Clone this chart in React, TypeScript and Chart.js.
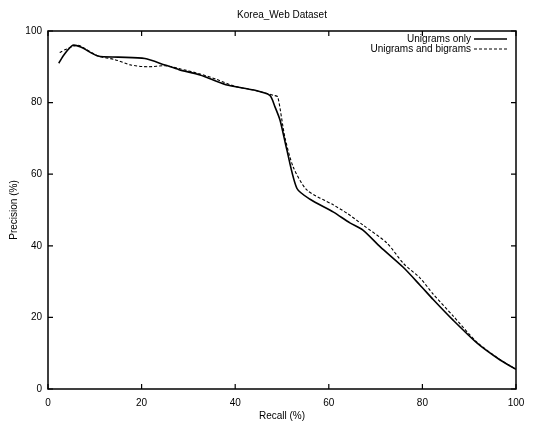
import React, { useEffect, useRef } from "react";
import { Chart, registerables } from "chart.js";

Chart.register(...registerables);

const TITLE = "Korea_Web Dataset";
const X_LABEL = "Recall (%)";
const Y_LABEL = "Precision (%)";
const SERIES_NAMES = ["Unigrams only", "Unigrams and bigrams"];

const uniRecall = [2.3, 3.5, 5.3, 7, 10.7, 15, 20.7, 25, 28, 32.5, 38, 44, 47.4, 48.5, 49.6, 51, 53.2, 56, 61, 64.5, 67.3, 71, 75.9, 79.5, 82.3, 86.5, 91.7, 96.6, 100];
const uniPrecision = [91, 93.5, 96, 95.5, 93, 92.7, 92.3, 90.5, 89.2, 87.7, 85, 83.5, 82, 78.8, 75, 67, 56, 53, 49.4, 46.4, 44.4, 39.7, 34, 29, 25, 19.3, 12.8, 8.1, 5.5];

const biRecall = [2.5, 4, 6.4, 8, 10.7, 14.3, 17.7, 21.4, 25, 28, 32.5, 36, 40, 44, 48.3, 49.1, 50.6, 52.4, 55.3, 61, 64, 67.3, 72.4, 76, 79.5, 82.3, 86.5, 91.7, 96.6, 100];
const biPrecision = [94, 95, 96, 95, 93, 92, 90.5, 90, 90.3, 89.5, 88, 86.5, 84.5, 83.5, 82, 81.6, 70.4, 62, 55.6, 51.4, 49, 45.8, 40.8, 35, 31, 26.5, 20.5, 13, 8.2, 5.5];

const X_TICKS = [0, 20, 40, 60, 80, 100];
const Y_TICKS = [0, 20, 40, 60, 80, 100];

const FONT = "'Liberation Sans', Arial, sans-serif";

const toPoints = (xs: number[], ys: number[]) => xs.map((x, i) => ({ x, y: ys[i] }));

const framePlugin = {
  id: "frame",
  afterDatasetsDraw(chart: any) {
    const { ctx, chartArea } = chart;
    const { left, right, top, bottom } = chartArea;
    const xs = chart.scales.x;
    const ys = chart.scales.y;
    ctx.save();
    ctx.strokeStyle = "#000";
    ctx.lineWidth = 1.5;
    ctx.strokeRect(left, top, right - left, bottom - top);
    const t = 5;
    ctx.lineWidth = 1.2;
    ctx.beginPath();
    X_TICKS.forEach((v) => {
      const px = xs.getPixelForValue(v);
      ctx.moveTo(px, bottom);
      ctx.lineTo(px, bottom - t);
      ctx.moveTo(px, top);
      ctx.lineTo(px, top + t);
    });
    Y_TICKS.forEach((v) => {
      const py = ys.getPixelForValue(v);
      ctx.moveTo(left, py);
      ctx.lineTo(left + t, py);
      ctx.moveTo(right, py);
      ctx.lineTo(right - t, py);
    });
    ctx.stroke();

    // title
    ctx.fillStyle = "#000";
    ctx.font = `10px ${FONT}`;
    ctx.textAlign = "center";
    ctx.textBaseline = "middle";
    ctx.fillText(TITLE, (left + right) / 2, 7);

    // legend inside plot, top right
    const textRight = right - 45;
    const lineL = right - 42;
    const lineR = right - 9;
    chart.data.datasets.forEach((ds: any, i: number) => {
      const y = top + 8 + i * 10;
      ctx.textAlign = "right";
      ctx.fillText(ds.label, textRight, y);
      ctx.beginPath();
      ctx.lineWidth = ds.borderWidth;
      ctx.setLineDash(ds.borderDash || []);
      ctx.moveTo(lineL, y);
      ctx.lineTo(lineR, y);
      ctx.stroke();
      ctx.setLineDash([]);
    });
    ctx.restore();
  },
};

export default function App() {
  const ref = useRef<HTMLCanvasElement | null>(null);
  useEffect(() => {
    if (!ref.current) return;
    const chart = new Chart(ref.current, {
      type: "line",
      data: {
        datasets: [
          {
            label: SERIES_NAMES[0],
            data: toPoints(uniRecall, uniPrecision),
            borderColor: "#000",
            borderWidth: 1.6,
            pointRadius: 0,
            tension: 0.25,
            fill: false,
          },
          {
            label: SERIES_NAMES[1],
            data: toPoints(biRecall, biPrecision),
            borderColor: "#000",
            borderWidth: 1.1,
            borderDash: [3, 2],
            pointRadius: 0,
            tension: 0.25,
            fill: false,
          },
        ],
      },
      options: {
        animation: false,
        responsive: false,
        layout: { padding: { top: 23, right: 10, left: 0, bottom: 0 } },
        plugins: {
          legend: { display: false },
          title: { display: false },
          tooltip: { enabled: false },
        },
        scales: {
          x: {
            type: "linear",
            min: 0,
            max: 100,
            afterFit: (s: any) => {
              s.height = 33;
              s.paddingLeft = 0;
              s.paddingRight = 0;
            },
            afterBuildTicks: (s: any) => {
              s.ticks = X_TICKS.map((v) => ({ value: v }));
            },
            grid: { display: false, drawTicks: false },
            border: { display: false },
            ticks: { color: "#000", padding: 8, font: { family: FONT, size: 10 }, maxRotation: 0 },
            title: { display: true, text: X_LABEL, color: "#000", padding: { top: 0, bottom: 0 }, font: { family: FONT, size: 10 } },
          },
          y: {
            type: "linear",
            min: 0,
            max: 100,
            afterFit: (s: any) => {
              s.width = 40;
              s.paddingTop = 0;
              s.paddingBottom = 0;
            },
            afterBuildTicks: (s: any) => {
              s.ticks = Y_TICKS.map((v) => ({ value: v }));
            },
            grid: { display: false, drawTicks: false },
            border: { display: false },
            ticks: { color: "#000", padding: 6, font: { family: FONT, size: 10 } },
            title: { display: true, text: Y_LABEL, color: "#000", padding: { top: 0, bottom: 0 }, font: { family: FONT, size: 10 } },
          },
        },
      },
      plugins: [framePlugin],
    });
    return () => chart.destroy();
  }, []);
  return (
    <div style={{ width: 518, height: 414 }}>
      <canvas ref={ref} width={518} height={414} style={{ display: "block" }} />
    </div>
  );
}
